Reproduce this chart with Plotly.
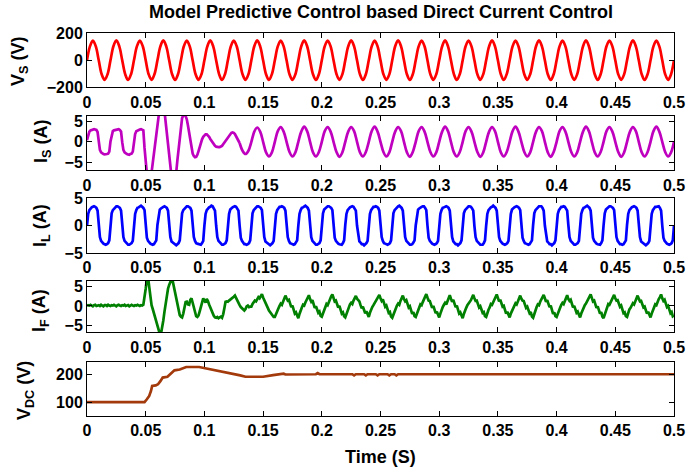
import numpy as np
import plotly.graph_objects as go

# ---------------- sample times ----------------
t_fine = np.round(np.arange(0, 0.5 + 1e-9, 0.001), 4)      # 501 samples
t_coarse = np.round(np.arange(0, 0.5 + 1e-9, 0.0025), 4)   # 201 samples
t_is_a = t_fine[:131]                                       # 0 .. 0.130
t_is_b = t_coarse[52:]                                      # 0.130 .. 0.5

# ---------------- source voltage Vs (V), every 2.5 ms ----------------
vs = [
    0, 103, 146, 103, 0, -103, -145, -103,
    0, 104, 147, 103, 0, -102, -146, -103,
    0, 103, 146, 104, 0, -103, -145, -102,
    0, 103, 147, 103, 0, -103, -146, -103,
    0, 104, 146, 103, 0, -103, -145, -103,
    0, 103, 147, 103, 0, -102, -146, -103,
    0, 103, 146, 104, 0, -103, -145, -103,
    0, 104, 147, 103, 0, -103, -146, -102,
    0, 103, 146, 103, 0, -103, -145, -103,
    0, 103, 147, 104, 0, -103, -146, -103,
    0, 104, 146, 103, 0, -102, -145, -103,
    0, 103, 147, 103, 0, -103, -146, -103,
    0, 103, 146, 103, 0, -103, -145, -104,
    0, 104, 147, 103, 0, -103, -146, -103,
    0, 103, 146, 104, 0, -103, -145, -103,
    0, 103, 147, 103, 0, -102, -146, -103,
    0, 104, 146, 103, 0, -103, -145, -103,
    0, 103, 147, 103, 0, -103, -146, -102,
    0, 103, 146, 104, 0, -103, -145, -103,
    0, 104, 147, 103, 0, -103, -146, -103,
    0, 103, 146, 103, 0, -102, -145, -103,
    0, 103, 147, 104, 0, -103, -146, -103,
    0, 104, 146, 103, 0, -103, -145, -104,
    0, 103, 147, 103, 0, -103, -146, -103,
    0, 103, 146, 103, 0, -103, -145, -103,
    0,
]

# ---------------- source current Is (A) ----------------
# 0 .. 0.130 s every 1 ms
is_a = [
    0.4, 1.9, 2.5, 2.8, 2.9, 3.0, 3.1, 3.0, 2.9, 2.4, -0.2, -2.0, -2.6, -2.9, -3.0, -3.1, -3.1, -3.0, -2.9, -2.4,
    0.1, 1.9, 2.6, 2.8, 2.9, 3.0, 3.1, 3.1, 2.9, 2.5, -0.1, -2.0, -2.6, -2.9, -3.0, -3.1, -3.2, -3.0, -2.9, -2.4,
    0.1, 1.9, 2.6, 2.8, 2.9, 3.0, 3.1, 3.0, 2.8, -1.5,
    -9.0, -10.5, -11.0, -11.0, -10.0, -7.5, -5.0, -2.5, 0.0, 2.5,
    5.0, 7.0, 8.5, 9.5, 9.5, 9.0, 7.5, 5.0, 2.0, -1.0,
    -4.0, -6.5, -8.5, -9.5, -9.5, -9.0, -7.5, -4.5, -1.5, 1.5,
    4.0, 5.8, 6.5, 6.6, 6.3, 5.5, 4.0, 2.0, 0.0, -1.8,
    -2.9, -3.5, -3.8, -3.7, -3.2, -2.3, -1.2, -0.2, 0.6, 1.2,
    1.6, 1.8, 1.8, 1.6, 1.2, 0.7, 0.2, -0.3, -0.7, -1.0,
    -1.2, -1.3, -1.3, -1.3, -1.2, -1.0, -0.6, -0.2, 0.3, 0.8,
    1.3, 1.7, 2.0, 2.2, 2.3, 2.2, 1.9, 1.4, 0.8, 0.1,
    -0.3,
]
# 0.130 .. 0.5 s every 2.5 ms
is_b = [
    -0.3, -2.2, -3.0, -2.2,
    0, 2.5, 3.5, 2.5, 0, -2.6, -3.6, -2.6,
    0, 2.6, 3.6, 2.5, 0, -2.5, -3.6, -2.6,
    0, 2.5, 3.7, 2.6, 0, -2.6, -3.6, -2.5,
    0, 2.6, 3.6, 2.5, 0, -2.5, -3.7, -2.6,
    0, 2.5, 3.6, 2.6, 0, -2.6, -3.6, -2.5,
    0, 2.6, 3.7, 2.5, 0, -2.5, -3.6, -2.6,
    0, 2.5, 3.6, 2.6, 0, -2.6, -3.7, -2.5,
    0, 2.6, 3.6, 2.5, 0, -2.5, -3.6, -2.6,
    0, 2.5, 3.7, 2.6, 0, -2.6, -3.6, -2.5,
    0, 2.6, 3.6, 2.5, 0, -2.5, -3.7, -2.6,
    0, 2.5, 3.6, 2.6, 0, -2.6, -3.6, -2.5,
    0, 2.6, 3.7, 2.5, 0, -2.5, -3.6, -2.6,
    0, 2.5, 3.6, 2.6, 0, -2.6, -3.7, -2.5,
    0, 2.6, 3.6, 2.5, 0, -2.5, -3.6, -2.6,
    0, 2.5, 3.7, 2.6, 0, -2.6, -3.6, -2.5,
    0, 2.6, 3.6, 2.5, 0, -2.5, -3.7, -2.6,
    0, 2.5, 3.6, 2.6, 0, -2.6, -3.6, -2.5,
    0, 2.6, 3.7, 2.5, 0, -2.5, -3.6, -2.6,
    0,
]

# ---------------- load current IL (A), every 1 ms ----------------
il = [
    0.0, 2.1, 2.8, 3.1, 3.3, 3.4, 3.5, 3.4, 3.2, 2.7, 0.0, -2.1, -2.8, -3.1, -3.3, -3.4, -3.5, -3.4, -3.2, -2.7,
    0.0, 2.2, 2.8, 3.1, 3.3, 3.5, 3.5, 3.4, 3.2, 2.7, 0.1, -2.1, -2.8, -3.1, -3.3, -3.5, -3.5, -3.4, -3.2, -2.8,
    0.0, 2.1, 2.8, 3.2, 3.3, 3.4, 3.6, 3.4, 3.2, 2.8, 0.0, -2.2, -2.8, -3.1, -3.3, -3.4, -3.5, -3.4, -3.1, -2.7,
    0.1, 2.1, 2.9, 3.1, 3.3, 3.4, 3.5, 3.4, 3.2, 2.7, 0.0, -2.1, -2.9, -3.1, -3.3, -3.4, -3.6, -3.4, -3.2, -2.7,
    0.0, 2.2, 2.8, 3.1, 3.4, 3.5, 3.5, 3.4, 3.2, 2.7, -0.1, -2.1, -2.8, -3.2, -3.3, -3.4, -3.5, -3.5, -3.2, -2.8,
    0.0, 2.1, 2.8, 3.1, 3.3, 3.4, 3.6, 3.5, 3.2, 2.7, 0.0, -2.1, -2.8, -3.1, -3.3, -3.5, -3.5, -3.4, -3.2, -2.7,
    0.0, 2.1, 2.9, 3.2, 3.3, 3.4, 3.5, 3.4, 3.1, 2.7, 0.0, -2.2, -2.8, -3.1, -3.4, -3.4, -3.5, -3.4, -3.2, -2.7,
    0.1, 2.2, 2.8, 3.1, 3.3, 3.5, 3.5, 3.4, 3.2, 2.8, 0.0, -2.1, -2.9, -3.1, -3.3, -3.4, -3.6, -3.4, -3.2, -2.8,
    0.0, 2.1, 2.8, 3.1, 3.4, 3.4, 3.5, 3.4, 3.2, 2.7, 0.0, -2.1, -2.8, -3.2, -3.3, -3.4, -3.5, -3.4, -3.1, -2.7,
    0.0, 2.1, 2.8, 3.2, 3.3, 3.4, 3.6, 3.4, 3.2, 2.7, -0.1, -2.1, -2.8, -3.1, -3.3, -3.5, -3.5, -3.4, -3.2, -2.7,
    0.0, 2.2, 2.9, 3.1, 3.3, 3.5, 3.5, 3.4, 3.2, 2.8, 0.0, -2.2, -2.8, -3.1, -3.3, -3.4, -3.5, -3.5, -3.2, -2.7,
    0.1, 2.1, 2.8, 3.1, 3.3, 3.4, 3.5, 3.4, 3.1, 2.7, 0.0, -2.1, -2.9, -3.1, -3.4, -3.4, -3.6, -3.4, -3.2, -2.8,
    0.0, 2.1, 2.8, 3.2, 3.4, 3.4, 3.5, 3.4, 3.2, 2.7, 0.0, -2.1, -2.8, -3.2, -3.3, -3.4, -3.5, -3.4, -3.2, -2.7,
    0.0, 2.2, 2.8, 3.1, 3.3, 3.5, 3.6, 3.4, 3.2, 2.7, 0.1, -2.1, -2.8, -3.1, -3.3, -3.5, -3.5, -3.4, -3.1, -2.7,
    0.0, 2.1, 2.9, 3.1, 3.3, 3.4, 3.5, 3.5, 3.2, 2.8, 0.0, -2.2, -2.8, -3.1, -3.3, -3.4, -3.5, -3.4, -3.2, -2.8,
    0.1, 2.1, 2.8, 3.2, 3.3, 3.4, 3.5, 3.4, 3.2, 2.7, 0.0, -2.1, -2.9, -3.2, -3.4, -3.4, -3.6, -3.4, -3.2, -2.7,
    0.0, 2.2, 2.8, 3.1, 3.4, 3.5, 3.5, 3.4, 3.1, 2.7, -0.1, -2.1, -2.8, -3.1, -3.3, -3.5, -3.5, -3.5, -3.2, -2.7,
    0.0, 2.1, 2.8, 3.1, 3.3, 3.4, 3.6, 3.4, 3.2, 2.7, 0.0, -2.1, -2.8, -3.1, -3.3, -3.4, -3.5, -3.4, -3.2, -2.8,
    0.0, 2.1, 2.9, 3.2, 3.3, 3.4, 3.5, 3.4, 3.2, 2.8, 0.0, -2.2, -2.8, -3.2, -3.3, -3.4, -3.5, -3.4, -3.1, -2.7,
    0.1, 2.2, 2.8, 3.1, 3.3, 3.5, 3.5, 3.5, 3.2, 2.7, 0.0, -2.1, -2.9, -3.1, -3.4, -3.4, -3.6, -3.4, -3.2, -2.7,
    0.0, 2.1, 2.8, 3.1, 3.4, 3.4, 3.5, 3.4, 3.1, 2.7, 0.1, -2.1, -2.8, -3.1, -3.3, -3.5, -3.5, -3.4, -3.2, -2.8,
    0.0, 2.1, 2.8, 3.2, 3.3, 3.4, 3.6, 3.4, 3.2, 2.7, 0.0, -2.2, -2.8, -3.1, -3.3, -3.4, -3.5, -3.5, -3.2, -2.7,
    0.0, 2.2, 2.9, 3.1, 3.3, 3.5, 3.5, 3.4, 3.2, 2.8, -0.1, -2.1, -2.8, -3.2, -3.4, -3.4, -3.5, -3.4, -3.1, -2.7,
    0.1, 2.1, 2.8, 3.1, 3.3, 3.4, 3.5, 3.4, 3.2, 2.7, 0.0, -2.1, -2.9, -3.1, -3.3, -3.5, -3.6, -3.4, -3.2, -2.8,
    0.0, 2.1, 2.8, 3.2, 3.4, 3.4, 3.5, 3.5, 3.2, 2.7, 0.0, -2.2, -2.8, -3.1, -3.3, -3.4, -3.5, -3.4, -3.2, -2.7,
    0.0,
]

# ---------------- filter current IF (A), every 1 ms ----------------
i_f = [
    0.0, 0.2, 0.1, 0.3, 0.1, -0.1, 0.2, 0.3, 0.0, 0.1,
    0.2, 0.0, 0.3, 0.1, -0.1, 0.2, 0.2, 0.0, 0.3, 0.1,
    0.0, 0.2, 0.1, 0.3, 0.0, -0.1, 0.2, 0.3, 0.1, 0.0,
    0.2, 0.1, 0.3, 0.0, 0.1, 0.2, -0.1, 0.1, 0.3, 0.1,
    0.0, 0.2, 0.1, 0.3, 0.1, 0.0, 0.2, 0.1, 0.3, 2.0,
    4.5, 7.0, 7.5, 5.0, 2.0, 0.2, -0.8, -1.8, -3.0, -4.2,
    -5.3, -6.3, -7.3, -7.3, -5.8, -3.8, -1.5, 0.8, 2.9, 4.5,
    5.5, 6.4, 7.0, 6.5, 5.0, 3.2, 2.0, 0.2, -1.5, -2.4,
    -2.8, -3.0, -2.0, -0.3, 1.0, 1.1, 0.4, 0.3, 1.6, 2.0,
    0.8, -0.4, -1.8, -2.7, -2.9, -2.5, -1.4, -0.1, 1.1, 2.0,
    1.4, 0.9, 1.8, 1.3, 0.4, -0.4, -1.2, -1.9, -2.6, -3.0,
    -3.1, -2.9, -3.2, -3.0, -2.8, -3.1, -2.2, -0.6, 1.1, 1.2,
    1.1, 1.4, 1.6, 2.0, 2.2, 2.4, 2.7, 2.0, 1.2, 0.6,
    0.2, -0.3, -0.7, -0.9, -1.2, -0.8, -0.1, 0.1, -0.3, -0.2,
    -0.2, 0.5, 0.9, 1.4, 1.2, 1.8, 2.3, 2.0, 2.6, 3.1, 2.2, 1.4, 1.0, 0.1, -0.5, -1.2, -1.6, -2.2, -2.5, -2.9,
    -2.9, -2.0, -1.2, -0.7, 0.0, 0.6, 0.3, 1.2, 1.9, 2.7, 2.0, 1.4, 1.6, 0.6, -0.3, 0.1, -1.0, -2.0, -1.7, -2.8,
    -3.2, -2.1, -1.0, -0.4, 0.3, 0.1, 0.9, 1.6, 2.2, 2.8, 1.8, 1.1, 1.5, 0.3, -0.5, -0.1, -1.2, -1.8, -1.5, -2.6,
    -2.8, -1.9, -0.8, -0.2, 0.5, 0.2, 1.1, 1.8, 2.5, 3.0, 2.1, 1.2, 1.4, 0.5, -0.4, 0.0, -1.1, -2.0, -1.7, -2.7,
    -3.0, -2.0, -1.1, -0.5, 0.4, 0.8, 0.5, 1.4, 2.0, 2.6, 1.9, 1.5, 1.2, 0.2, -0.6, -0.2, -1.3, -1.9, -1.4, -2.5,
    -2.9, -1.8, -0.9, -0.3, 0.2, 0.7, 1.2, 1.6, 2.3, 2.9, 2.0, 1.3, 1.7, 0.6, -0.2, 0.1, -0.9, -1.8, -1.6, -2.8,
    -3.1, -2.2, -1.2, -0.6, 0.1, 0.6, 0.3, 1.3, 2.0, 2.7, 1.8, 1.2, 1.5, 0.4, -0.4, -0.1, -1.1, -2.1, -1.6, -2.7,
    -2.9, -1.9, -1.0, -0.4, 0.4, 0.2, 1.0, 1.7, 2.4, 3.1, 2.2, 1.4, 1.3, 0.3, -0.5, 0.0, -1.2, -1.9, -1.5, -2.6,
    -3.0, -2.0, -0.9, -0.3, 0.3, 0.8, 0.4, 1.4, 2.1, 2.8, 1.9, 1.1, 1.6, 0.5, -0.3, 0.1, -1.0, -2.0, -1.7, -2.8,
    -3.2, -2.1, -1.1, -0.5, 0.2, 0.6, 1.1, 1.5, 2.2, 2.9, 2.0, 1.3, 1.4, 0.4, -0.4, -0.1, -1.2, -1.8, -1.6, -2.7,
    -2.9, -1.8, -1.0, -0.4, 0.5, 0.3, 1.0, 1.8, 2.4, 3.0, 2.1, 1.2, 1.6, 0.6, -0.2, 0.0, -1.1, -2.0, -1.5, -2.6,
    -3.0, -2.0, -1.2, -0.6, 0.2, 0.7, 0.4, 1.3, 2.0, 2.7, 1.9, 1.4, 1.3, 0.3, -0.5, -0.2, -1.3, -1.9, -1.6, -2.8,
    -3.1, -2.1, -0.9, -0.3, 0.4, 0.2, 1.1, 1.6, 2.3, 2.9, 2.0, 1.1, 1.5, 0.5, -0.3, 0.1, -1.0, -2.1, -1.7, -2.7,
    -2.9, -1.9, -1.0, -0.5, 0.3, 0.8, 0.5, 1.4, 2.1, 2.8, 1.8, 1.3, 1.6, 0.4, -0.4, 0.0, -1.2, -1.8, -1.5, -2.6,
    -3.0, -2.0, -1.1, -0.4, 0.2, 0.6, 1.2, 1.7, 2.4, 3.0, 2.1, 1.2, 1.4, 0.3, -0.5, -0.1, -1.1, -2.0, -1.6, -2.8,
    -3.2, -2.2, -1.0, -0.3, 0.5, 0.3, 1.0, 1.5, 2.2, 2.9, 2.0, 1.4, 1.5, 0.6, -0.2, 0.1, -1.0, -1.9, -1.7, -2.7,
    -2.9, -1.8, -0.9, -0.5, 0.3, 0.7, 0.4, 1.3, 2.0, 2.7, 1.9, 1.2, 1.3, 0.4, -0.4, -0.2, -1.2, -2.0, -1.5, -2.6,
    -3.0, -2.0, -1.1, -0.4, 0.4, 0.2, 1.1, 1.8, 2.3, 3.0, 2.0, 1.3, 1.6, 0.5, -0.3, 0.0, -1.1, -1.9, -1.6, -2.7,
    -2.5,
]

# ---------------- DC-link voltage VDC (V) ----------------
t_vdc = [0, 0.049, 0.051, 0.053, 0.0545, 0.0555, 0.0585, 0.0605, 0.0625, 0.0645,
         0.0685, 0.0715, 0.0745, 0.079, 0.0845, 0.0955, 0.1015, 0.11, 0.119, 0.1305,
         0.135, 0.15, 0.1585, 0.166, 0.1675, 0.169, 0.18, 0.195, 0.1965, 0.198,
         0.226, 0.2275, 0.229, 0.236, 0.2375, 0.239, 0.246, 0.2475, 0.249, 0.256,
         0.2575, 0.259, 0.262, 0.2635, 0.265, 0.5]
vdc = [100, 100, 110, 122, 140, 158, 160, 164, 175, 188,
       191, 203, 214, 217, 226, 226, 221, 215, 205, 196,
       191, 191, 197, 199, 202, 199, 200, 200, 204, 200,
       200, 196, 200, 200, 196, 200, 200, 196, 200, 200,
       196, 200, 200, 196, 200, 200]

x_tickvals = [0, 0.05, 0.1, 0.15, 0.2, 0.25, 0.3, 0.35, 0.4, 0.45, 0.5]
x_ticktext = ["0", "0.05", "0.1", "0.15", "0.2", "0.25", "0.3", "0.35", "0.4", "0.45", "0.5"]

# ---------------- layout geometry (pixels) ----------------
W, H = 689, 470
L, R, T, B = 87, 15, 33, 54
PH = H - T - B
PW = W - L - R
panels_px = [(33.3, 87.3), (115.7, 170.3), (198, 253), (280.7, 332.3), (361.7, 416)]


def yfrac(ypix):
    return (H - B - ypix) / PH


def xfrac(xpix):
    return (xpix - L) / PW


FONT = "Liberation Sans, Arial, Helvetica, sans-serif"
tickfont = dict(family=FONT, size=16, color="black", weight="bold")

fig = go.Figure()

series = [
    (t_coarse, vs, "#FF0000", "spline"),
    (t_is_a, is_a, "#BF00BF", "linear"),
    (t_fine, il, "#0000FF", "linear"),
    (t_fine, i_f, "#008000", "linear"),
    (t_vdc, vdc, "#A33A0C", "linear"),
]
axis_idx = [1, 2, 3, 4, 5]
for (x, y, c, shp), k in zip(series, axis_idx):
    fig.add_trace(go.Scatter(x=x, y=y, mode="lines",
                             line=dict(color=c, width=2.7, shape=shp),
                             xaxis=f"x{k}", yaxis=f"y{k}", showlegend=False))
fig.add_trace(go.Scatter(x=t_is_b, y=is_b, mode="lines",
                         line=dict(color="#BF00BF", width=2.7, shape="spline"),
                         xaxis="x2", yaxis="y2", showlegend=False))

y_ranges = [[-200, 200], [-7.0, 6.4], [-5, 5], [-6.9, 6.6], [50, 245]]
y_ticks = [[-200, 0, 200], [-5, 0, 5], [-5, 0, 5], [-5, 0, 5], [100, 200]]

common = dict(showline=True, linecolor="black", linewidth=1, mirror="ticks",
              ticks="inside", ticklen=5, tickcolor="black", tickwidth=1,
              showgrid=False, zeroline=False, tickfont=tickfont, fixedrange=True,
              automargin=False)

layout = dict(width=W, height=H, margin=dict(l=L, r=R, t=T, b=B, autoexpand=False),
              paper_bgcolor="white", plot_bgcolor="white", showlegend=False)

for i, (top, bot) in enumerate(panels_px):
    k = i + 1
    layout[f"xaxis{k}"] = dict(domain=[0, 1], anchor=f"y{k}", range=[0, 0.5],
                               tickvals=x_tickvals, ticktext=x_ticktext, **common)
    layout[f"yaxis{k}"] = dict(domain=[yfrac(bot), yfrac(top)], anchor=f"x{k}",
                               range=y_ranges[i], tickvals=y_ticks[i], **common)

fig.update_layout(**layout)

titlefont = dict(family=FONT, size=18, color="black", weight="bold")
ylabels = [
    ("V<sub>S</sub> (V)", 19, 62),
    ("I<sub>S</sub> (A)", 42, 142),
    ("I<sub>L</sub> (A)", 41, 226),
    ("I<sub>F</sub> (A)", 40, 310),
    ("V<sub>DC</sub> (V)", 25, 391),
]
for txt, xp, yp in ylabels:
    fig.add_annotation(text=txt, xref="paper", yref="paper", x=xfrac(xp), y=yfrac(yp),
                       xanchor="center", yanchor="middle", textangle=-90,
                       showarrow=False, font=titlefont)

fig.add_annotation(text="Model Predictive Control based Direct Current Control",
                   xref="paper", yref="paper", x=xfrac(380.5), y=yfrac(12),
                   xanchor="center", yanchor="middle", showarrow=False,
                   font=dict(family=FONT, size=18, color="black", weight="bold"))
fig.add_annotation(text="Time (S)", xref="paper", yref="paper", x=xfrac(380.5), y=yfrac(457),
                   xanchor="center", yanchor="middle", showarrow=False, font=titlefont)

fig.write_html("out.html", config={"displayModeBar": False},
               post_script="document.body.style.margin='0';document.body.style.overflow='hidden';")
